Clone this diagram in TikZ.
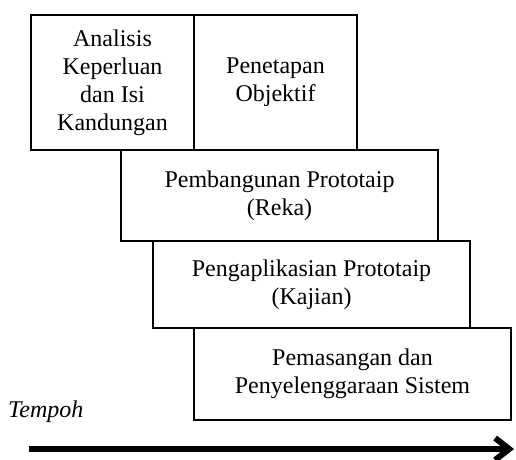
\documentclass[tikz,border=0pt]{standalone}
\usepackage{fontspec}
\setmainfont{Liberation Serif}
\usetikzlibrary{arrows.meta, positioning}

\tikzset{
  phasebox/.style={draw, line width=2pt, fill=white, align=center,
    inner sep=0pt, outer sep=0pt, anchor=north west,
    font=\fontsize{24}{28}\selectfont},
}

\begin{document}
\begin{tikzpicture}[x=1pt,y=-1pt]
  \path[use as bounding box] (0,0) rectangle (516,459);
  % top pair
  \node[phasebox, minimum width=163, minimum height=135] (analisis) at (31,15)
    {Analisis\\Keperluan\\dan Isi\\Kandungan};
  \node[phasebox, minimum width=163, minimum height=135] (objektif) at (194,15)
    {Penetapan\\Objektif};
  % staircase
  \node[phasebox, minimum width=317, minimum height=91] (reka) at (121,150)
    {Pembangunan Prototaip\\(Reka)};
  \node[phasebox, minimum width=317, minimum height=87] (kajian) at (153,241)
    {Pengaplikasian Prototaip\\(Kajian)};
  \node[phasebox, minimum width=317, minimum height=92] (sistem) at (194,328)
    {Pemasangan dan\\Penyelenggaraan Sistem};
  % time axis
  \node[anchor=base west, inner sep=0pt, font=\itshape\fontsize{24}{28}\selectfont]
    (tempoh) at (8,417) {Tempoh};
  \coordinate (masamula) at (29,449);
  \coordinate (masaakhir) at (514,449);
  \draw[line width=6pt, -{Straight Barb[length=14pt, width=22pt]}] (masamula) -- (masaakhir);
\end{tikzpicture}
\end{document}
